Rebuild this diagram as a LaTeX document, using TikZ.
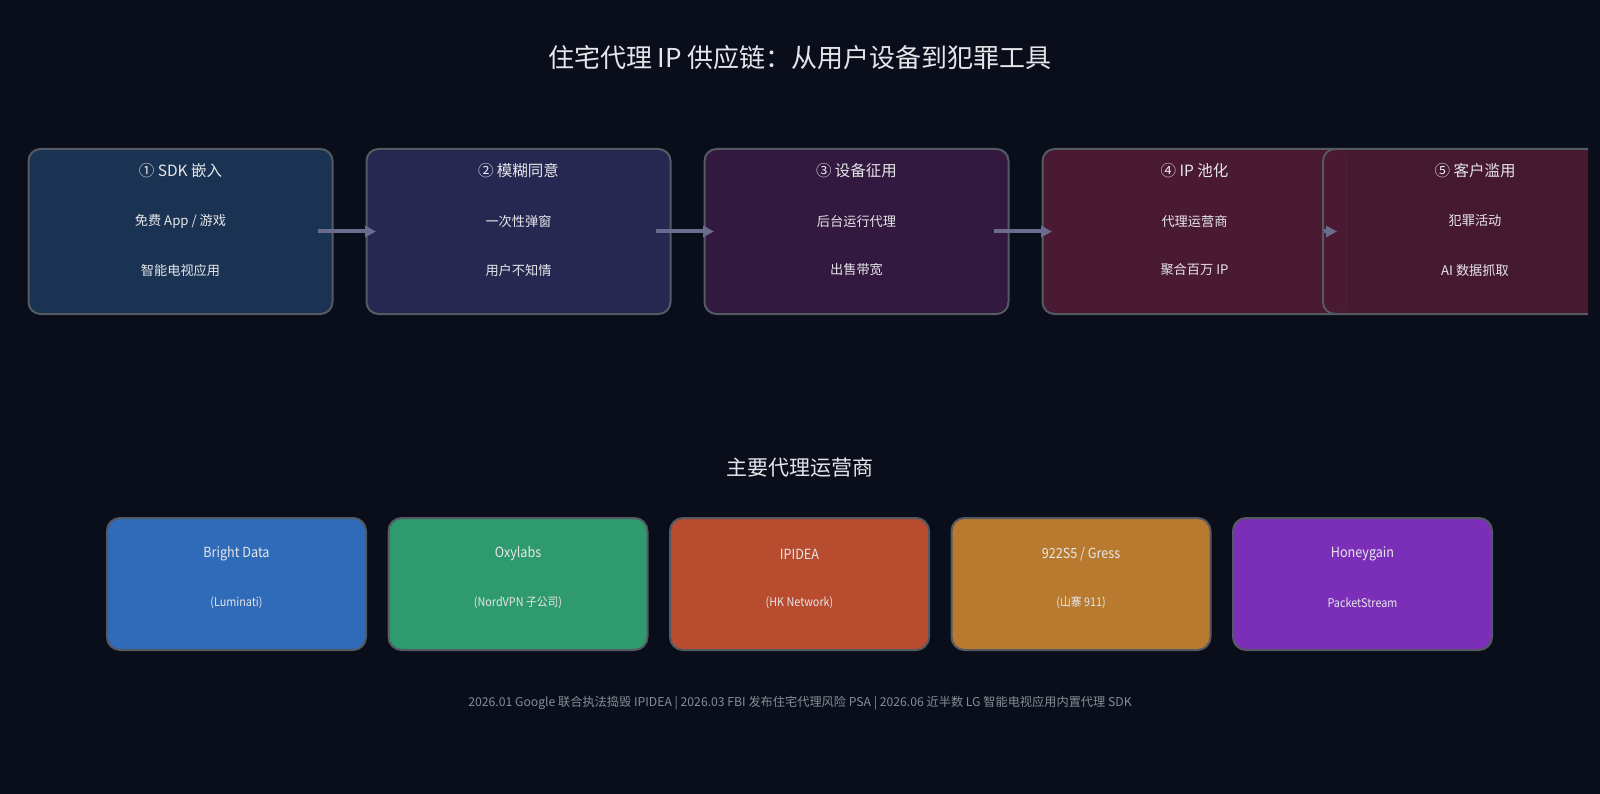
\documentclass[tikz,border=0pt]{standalone}
\usepackage{fontspec}
\setmainfont{Noto Sans CJK SC}
\newfontfamily\narrow[FakeStretch=0.9]{Noto Sans CJK SC}
\usetikzlibrary{arrows.meta}
\definecolor{bg}{HTML}{0A0E1A}
\definecolor{bordc}{HTML}{555A62}
\definecolor{arrc}{HTML}{6B6B8E}
\definecolor{txt}{HTML}{E6E6EA}
\definecolor{foot}{HTML}{888C96}
\definecolor{cA}{HTML}{1A3352}
\definecolor{cB}{HTML}{272852}
\definecolor{cC}{HTML}{33183F}
\definecolor{cD}{HTML}{4A1A32}
\definecolor{pA}{HTML}{2F6BB8}
\definecolor{pB}{HTML}{2E9A6E}
\definecolor{pC}{HTML}{B84C2E}
\definecolor{pD}{HTML}{B87A2E}
\definecolor{pE}{HTML}{7B2FB8}
\tikzset{
  stagebox/.style={draw=bordc, line width=2pt, rounded corners=12pt, minimum width=304pt, minimum height=165pt, inner sep=0pt},
  provbox/.style={draw=bordc, line width=2pt, rounded corners=13pt, minimum width=259pt, minimum height=132pt, inner sep=0pt},
  head/.style={text=txt, font=\fontsize{15.5}{18}\selectfont, inner sep=0pt},
  line/.style={text=txt, font=\fontsize{13.2}{16}\selectfont, inner sep=0pt},
  pname/.style={text=txt, font=\narrow\fontsize{14}{16}\selectfont, inner sep=0pt},
  psub/.style={text=txt, font=\narrow\fontsize{12}{14}\selectfont, inner sep=0pt},
  arr/.style={draw=arrc, line width=4pt, -{Triangle[length=11pt,width=11pt]}}
}
\begin{document}
\begin{tikzpicture}[x=1pt,y=-1pt]
\useasboundingbox (0,0) rectangle (1600,794);
\fill[bg] (0,0) rectangle (1600,794);
\node[text=txt, font=\fontsize{26}{30}\selectfont, inner sep=0pt] (title) at (800,58) {住宅代理 IP 供应链：从用户设备到犯罪工具};
% stage boxes
\node[stagebox, fill=cA] (b1) at (180.5,231.5) {};
\node[stagebox, fill=cB] (b2) at (518.5,231.5) {};
\node[stagebox, fill=cC] (b3) at (856.5,231.5) {};
\node[stagebox, fill=cD] (b4) at (1194.5,231.5) {};
\draw[arr, shorten <=-15.5pt, shorten >=-10.5pt] (b1.east) -- (b2.west);
\draw[arr, shorten <=-15.5pt, shorten >=-10.5pt] (b2.east) -- (b3.west);
\draw[arr, shorten <=-15.5pt, shorten >=-10.5pt] (b3.east) -- (b4.west);
\begin{scope}
\clip (0,0) rectangle (1588,794);
\node[stagebox, fill=cD, fill opacity=0.93, draw opacity=1] (b5) at (1475,231.5) {};
\end{scope}
\coordinate (t4) at ([xshift=-10.5pt]b4.east);
\draw[arr] ([xshift=2pt]b5.west) -- (t4);
% stage texts
\node[head] (h1) at (180.5,171) {① SDK 嵌入};
\node[line] (l1a) at (180.5,221) {免费 App / 游戏};
\node[line] (l1b) at (180.5,270) {智能电视应用};
\node[head] (h2) at (518.5,171) {② 模糊同意};
\node[line] (l2a) at (518.5,221) {一次性弹窗};
\node[line] (l2b) at (518.5,270) {用户不知情};
\node[head] (h3) at (856.5,171) {③ 设备征用};
\node[line] (l3a) at (856.5,221) {后台运行代理};
\node[line] (l3b) at (856.5,270) {出售带宽};
\node[head] (h4) at (1194.5,171) {④ IP 池化};
\node[line] (l4a) at (1194.5,221) {代理运营商};
\node[line] (l4b) at (1194.5,270) {聚合百万 IP};
\node[head] (h5) at (1475,171) {⑤ 客户滥用};
\node[line] (l5a) at (1475,221) {犯罪活动};
\node[line] (l5b) at (1475,270) {AI 数据抓取};
% providers
\node[text=txt, font=\fontsize{21}{24}\selectfont, inner sep=0pt] (sec) at (800,468) {主要代理运营商};
\node[provbox, fill=pA] (p1) at (236.5,584) {};
\node[provbox, fill=pB] (p2) at (518,584) {};
\node[provbox, fill=pC] (p3) at (799.5,584) {};
\node[provbox, fill=pD] (p4) at (1081,584) {};
\node[provbox, fill=pE] (p5) at (1362.5,584) {};
\node[pname] (n1) at (236.5,554) {Bright Data};
\node[psub] (s1) at (236.5,603) {(Luminati)};
\node[pname] (n2) at (518,554) {Oxylabs};
\node[psub] (s2) at (518,603) {(NordVPN 子公司)};
\node[pname] (n3) at (799.5,554) {IPIDEA};
\node[psub] (s3) at (799.5,603) {(HK Network)};
\node[pname] (n4) at (1081,554) {922S5 / Gress};
\node[psub] (s4) at (1081,603) {(山寨 911)};
\node[pname] (n5) at (1362.5,554) {Honeygain};
\node[psub] (s5) at (1362.5,603) {PacketStream};
\node[text=foot, font=\fontsize{12.2}{14}\selectfont, inner sep=0pt] (ft) at (800,703) {2026.01 Google 联合执法捣毁 IPIDEA | 2026.03 FBI 发布住宅代理风险 PSA | 2026.06 近半数 LG 智能电视应用内置代理 SDK};
\end{tikzpicture}
\end{document}
